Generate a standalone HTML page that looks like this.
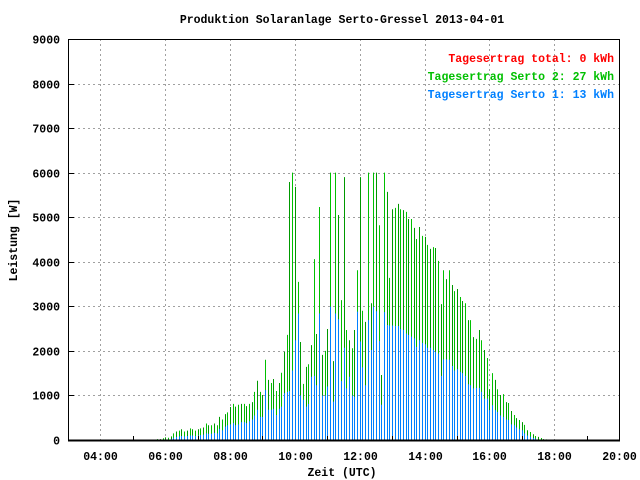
<!DOCTYPE html>
<html><head><meta charset="utf-8"><style>
body{margin:0;background:#fff}
svg{display:block}
text{font-family:"Liberation Mono","DejaVu Sans Mono",monospace;font-weight:bold;font-size:11.5px}
</style></head><body>
<svg id="chart" width="640" height="480" viewBox="0 0 640 480" xmlns="http://www.w3.org/2000/svg">
<rect width="640" height="480" fill="#fff"/>
<g id="grid"></g>
<g id="bars"></g>
<g id="axes"></g>
<text x="342" y="23" text-anchor="middle">Produktion Solaranlage Serto-Gressel 2013-04-01</text>
<text x="342" y="476" text-anchor="middle">Zeit (UTC)</text>
<text transform="translate(17,240) rotate(-90)" text-anchor="middle">Leistung [W]</text>
<text x="614" y="62" text-anchor="end" fill="#ff0000">Tagesertrag total: 0 kWh</text>
<text x="614" y="80" text-anchor="end" fill="#00c000">Tagesertrag Serto 2: 27 kWh</text>
<text x="614" y="98" text-anchor="end" fill="#0080ff">Tagesertrag Serto 1: 13 kWh</text>
</svg>
<script>
const startHour = 5.75;
const stepHours = 5/60;
const totalValues = [20,20,40,60,50,80,150,190,210,240,190,210,260,240,210,240,260,280,370,330,330,370,330,520,460,580,620,740,810,750,790,810,810,760,810,850,1080,1330,1080,1010,1800,1350,1280,1370,1100,1280,
1510,1980,2360,5790,6000,5680,3550,2200,1260,1640,1700,2130,4060,2380,5230,1910,2000,2490,6000,1770,6000,5050,3140,5900,2470,2240,2060,2470,3810,5900,2900,2650,6000,3070,6000,6000,4820,1460,6000,5570,3640,5180,5210,5300,
5180,5160,5120,4960,4960,4760,4510,4780,4580,4560,4380,4290,4330,4310,4020,3050,3810,3610,3810,3480,3340,3390,3210,3120,3070,2690,2690,2310,2270,2470,2240,2020,1840,1140,1500,1350,1140,1010,1030,850,830,650,560,490,450,400,340,220,180,130,90,70,45,20,15];
const serto1Values = [0,0,0,0,0,20,50,70,80,90,80,90,100,100,90,100,110,120,150,140,140,160,150,250,220,300,330,350,380,330,350,400,400,380,420,460,550,680,520,520,1120,680,680,700,560,700,
750,1050,1080,1100,1560,2240,2840,1000,900,750,810,1420,1440,1230,2840,1000,1000,1200,2990,860,2840,2710,1320,2070,1160,1420,1000,970,2880,2210,1630,1230,2690,2020,2990,2890,2220,790,2870,2580,2570,2570,2560,2560,
2490,2470,2390,2360,2320,2280,2090,2240,2180,2150,2070,2070,2020,1980,1940,1440,1810,1810,1800,1660,1560,1590,1530,1500,1440,1250,1230,1160,1170,1170,1080,930,930,670,780,670,630,550,520,460,450,350,330,280,240,220,150,100,75,45,30,0,0,0,0];
const yTicks = [0,1000,2000,3000,4000,5000,6000,7000,8000,9000];
const xTickHours = [4,6,8,10,12,14,16,18,20];
const xTickLabels = ["04:00","06:00","08:00","10:00","12:00","14:00","16:00","18:00","20:00"];

const L=68,R=619,T=39,B=440, H0=3, H1=20, YMAX=9000;
const xs = h => L + (h-H0)/(H1-H0)*(R-L);
const ys = v => B - v/YMAX*(B-T);
const NS='http://www.w3.org/2000/svg';
function mk(tag, parent, attrs){const e=document.createElementNS(NS,tag);for(const k in attrs)e.setAttribute(k,attrs[k]);parent.appendChild(e);return e;}
const grid=document.getElementById('grid'), bars=document.getElementById('bars'), axes=document.getElementById('axes');

yTicks.forEach(v=>{
  const y=Math.round(ys(v))+0.5;
  if(v>0&&v<YMAX){const g=mk('line',grid,{x1:L,x2:R,y1:y,y2:y,stroke:'#a0a0a0','stroke-dasharray':'2,3'});
  
  }
  const t=mk('text',axes,{x:L-8,y:y+4,'text-anchor':'end'});t.textContent=v;
  
  
  const tk=mk('line',axes,{x1:L,x2:L+6,y1:y,y2:y,stroke:'#000'});
  
  
});
xTickHours.forEach((h,i)=>{
  const x=Math.round(xs(h))+0.5;
  if(h<H1){const g=mk('line',grid,{x1:x,x2:x,y1:T,y2:B,stroke:'#a0a0a0','stroke-dasharray':'2,3'});
  
  }
  const t=mk('text',axes,{x:x,y:B+20,'text-anchor':'middle'});t.textContent=xTickLabels[i];
  
  
  const m=Math.round(xs(h-1))+0.5;
  const mt=mk('line',axes,{x1:m,x2:m,y1:B,y2:B-4,stroke:'#000'});
  
  
});
totalValues.forEach((v,i)=>{
  const x=Math.round(xs(startHour+i*stepHours))+0.5;
  const g=mk('line',bars,{x1:x,x2:x,y1:B,y2:ys(v),stroke:(i%2?'#009900':'#00c000'),'stroke-width':1});
  
  
  const b=serto1Values[i];
  if(b>0){const bl=mk('line',bars,{x1:x,x2:x,y1:B,y2:ys(b),stroke:'#0080ff','stroke-width':1});
  
  }
});
const border=mk('rect',axes,{x:L+0.5,y:T+0.5,width:R-L,height:B-T,fill:'none',stroke:'#000','stroke-width':1});


const base=mk('line',axes,{x1:L,x2:R+1,y1:B+0.5,y2:B+0.5,stroke:'#000','stroke-width':2});


</script>
</body></html>
